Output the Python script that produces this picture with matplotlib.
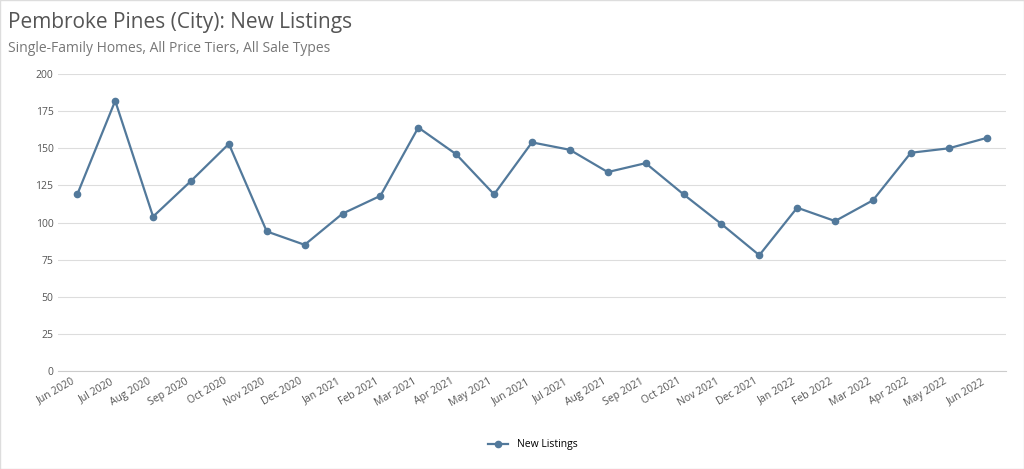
import matplotlib.pyplot as plt

months = ["Jun 2020", "Jul 2020", "Aug 2020", "Sep 2020", "Oct 2020", "Nov 2020", "Dec 2020",
          "Jan 2021", "Feb 2021", "Mar 2021", "Apr 2021", "May 2021", "Jun 2021", "Jul 2021",
          "Aug 2021", "Sep 2021", "Oct 2021", "Nov 2021", "Dec 2021", "Jan 2022", "Feb 2022",
          "Mar 2022", "Apr 2022", "May 2022", "Jun 2022"]
listings = [119, 182, 104, 128, 153, 94, 85, 106, 118, 164, 146, 119, 154, 149,
            134, 140, 119, 99, 78, 110, 101, 115, 147, 150, 157]

plt.rcParams['font.family'] = ['Open Sans', 'DejaVu Sans']
fig = plt.figure(figsize=(10.24, 4.69), dpi=100)
ax = fig.add_axes([0.057, 0.209, 0.925, 0.633])
x = range(len(months))
ax.plot(x, listings, color='#52799b', marker='o', markersize=4.5, linewidth=1.6, label='New Listings')
ax.set_ylim(0, 200)
ax.set_yticks(range(0, 201, 25))
ax.set_xlim(-0.5, len(months) - 0.5)
ax.set_xticks(list(x))
ax.set_xticklabels(months, rotation=30, ha='right', fontsize=7.5, color='#555555')
ax.tick_params(axis='y', labelsize=7.5, colors='#555555', length=0)
ax.tick_params(axis='x', length=0)
ax.grid(axis='y', color='#dddddd', linewidth=0.8)
ax.set_axisbelow(True)
for s in ['top', 'right', 'left']:
    ax.spines[s].set_visible(False)
ax.spines['bottom'].set_color('#cccccc')

fig.text(0.008, 0.94, "Pembroke Pines (City): New Listings", fontsize=15, color='#555555')
fig.text(0.008, 0.89, "Single-Family Homes, All Price Tiers, All Sale Types", fontsize=10, color='#777777')
fig.legend(loc='lower center', bbox_to_anchor=(0.52, 0.02), frameon=False, fontsize=7.5)
fig.patches.append(plt.Rectangle((0, 0), 1, 1, transform=fig.transFigure, fill=False,
                                 edgecolor='#dddddd', linewidth=1))
fig.savefig('out.png', dpi=100)
